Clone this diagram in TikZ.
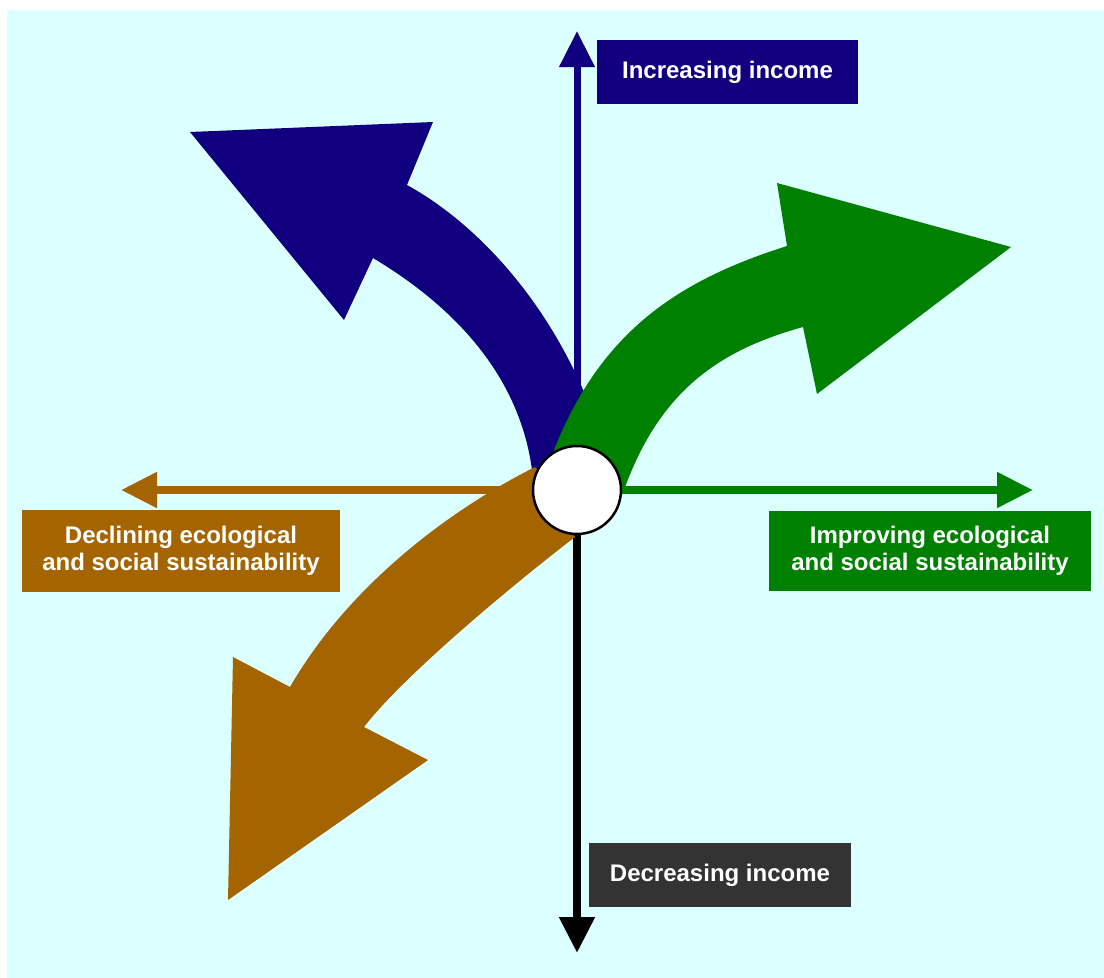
\documentclass[tikz,border=0pt]{standalone}
\usepackage{fontspec}
\setmainfont{Liberation Sans}
\usetikzlibrary{arrows.meta}
\definecolor{bgc}{HTML}{DCFFFF}
\definecolor{navyc}{HTML}{100080}
\definecolor{greenc}{HTML}{008000}
\definecolor{brownc}{HTML}{A46400}
\definecolor{grayc}{HTML}{333333}
\pgfdeclarelayer{back}
\pgfdeclarelayer{mid}
\pgfsetlayers{back,mid,main}
\begin{document}
\begin{tikzpicture}[x=1pt,y=-1pt,
  lbl/.style={text=white, font=\bfseries\fontsize{24}{27}\selectfont, align=center, inner sep=0pt, draw=none},
  axisline/.style={line width=8pt, -{Triangle[length=36pt,width=34pt]}},
  hub/.style={circle, draw=black, line width=2.5pt, fill=white, minimum size=88pt, inner sep=0pt}]
\useasboundingbox (0,0) rectangle (1104,978);

% hub circle
\node[hub] (O) at (577,490) {};

% labels
\node[lbl, fill=navyc, minimum width=261pt, minimum height=64pt] (inc) at (727.5,72) {Increasing income};
\node[lbl, fill=grayc, minimum width=262pt, minimum height=64pt] (dec) at (720,875) {Decreasing income};
\node[lbl, fill=brownc, minimum width=318pt, minimum height=82pt] (decl) at (181,551) {Declining ecological\\and social sustainability};
\node[lbl, fill=greenc, minimum width=322pt, minimum height=80pt] (impr) at (930,551) {Improving ecological\\and social sustainability};

% axis tips
\coordinate (upTip) at (577,31);
\coordinate (downTip) at (577,953);
\coordinate (leftTip) at (121,490);
\coordinate (rightTip) at (1033,490);

\begin{pgfonlayer}{back}
  \fill[bgc] (7,10) rectangle (1104,978);
  \draw[axisline, navyc, line width=7pt] (O) -- (upTip);
  \draw[axisline, black] (O) -- (downTip);
  \draw[axisline, brownc] (O) -- (leftTip);
  \draw[axisline, greenc] (O) -- (rightTip);
\end{pgfonlayer}

\begin{pgfonlayer}{mid}
  % navy curved arrow (up-left)
  \fill[navyc] (532,470) .. controls (520,380) and (460,310) .. (373,258)
    -- (344,320) -- (190,132) -- (433,122) -- (407,185)
    .. controls (480,225) and (565,315) .. (605,450) -- cycle;
  % green curved arrow (right)
  \fill[greenc] (552,455) .. controls (600,330) and (680,280) .. (787,246)
    -- (777,183) -- (1011,247) -- (817,394) -- (803,327)
    .. controls (720,350) and (660,390) .. (624,490) -- cycle;
  % brown curved arrow (down-left)
  \fill[brownc] (535,467) .. controls (430,520) and (340,600) .. (290,687)
    -- (233,657) -- (228,900) -- (428,760) -- (364,727)
    .. controls (404,675) and (515,583) .. (575,537) -- cycle;
\end{pgfonlayer}
\end{tikzpicture}
\end{document}
